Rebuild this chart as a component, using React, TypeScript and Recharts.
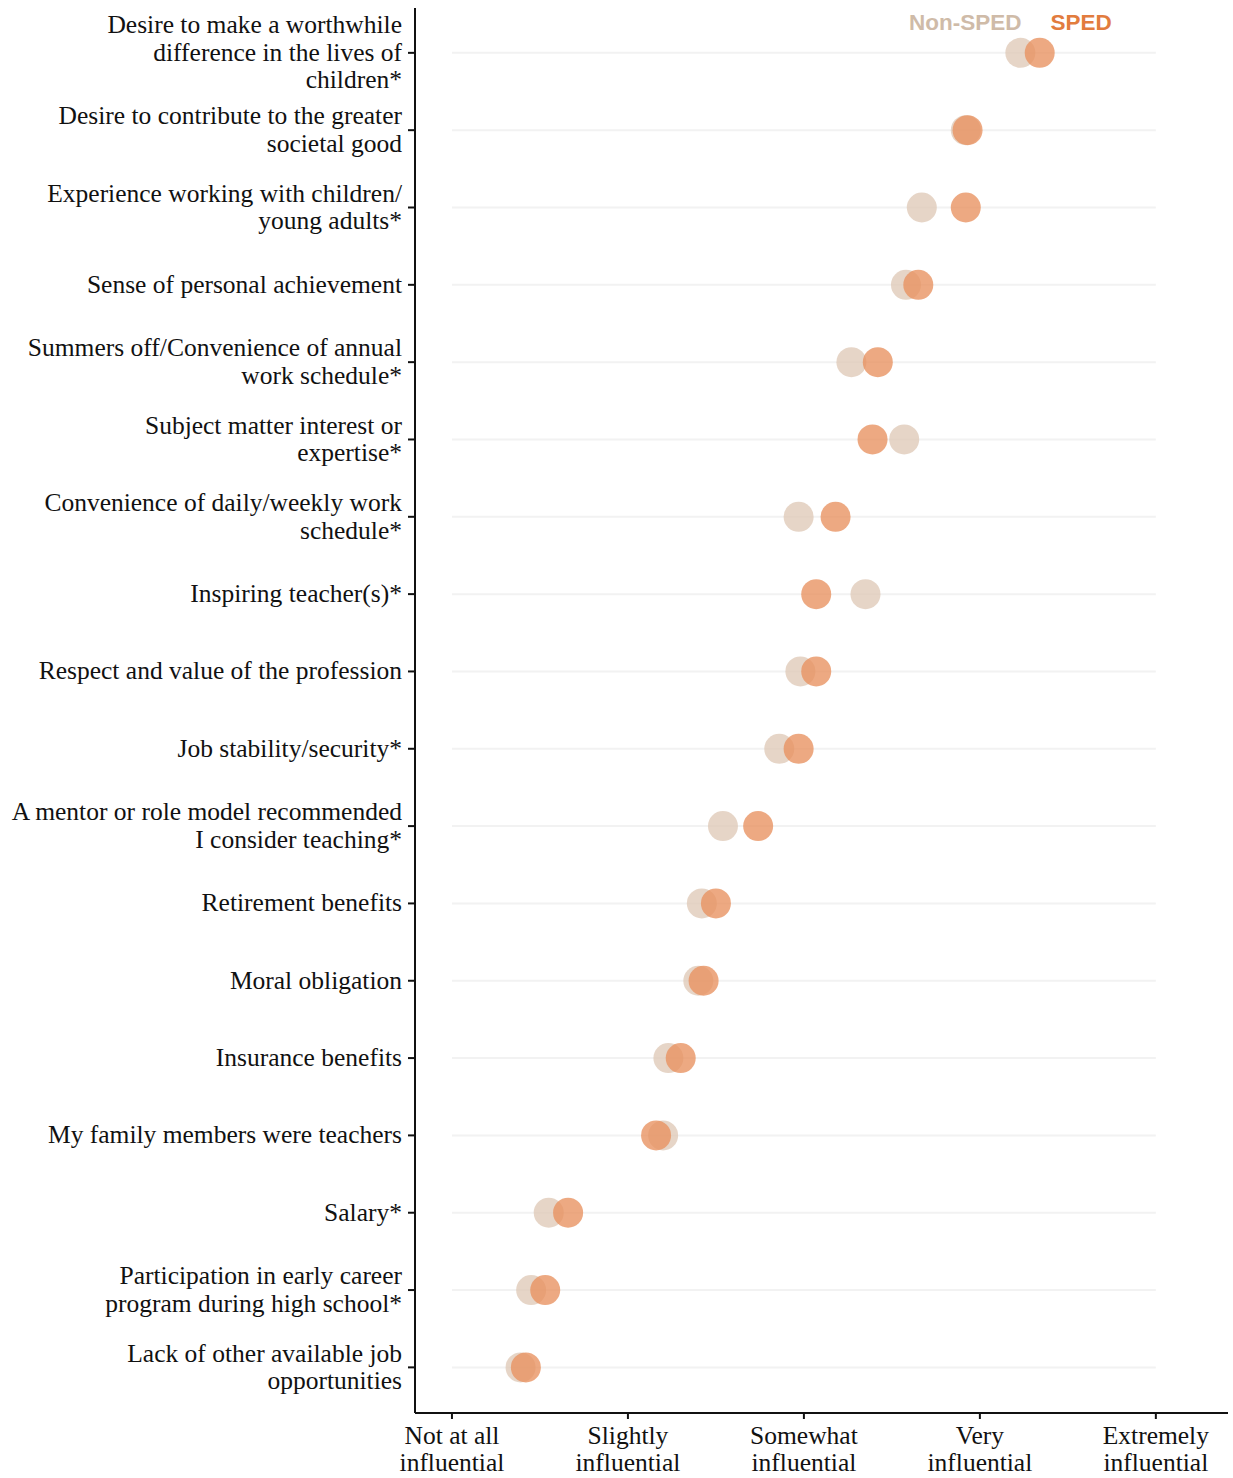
import React from "react";
import { ScatterChart, Scatter, XAxis, YAxis, ReferenceLine } from "recharts";

const categories = [
  "Desire to make a worthwhile\ndifference in the lives of\nchildren*",
  "Desire to contribute to the greater\nsocietal good",
  "Experience working with children/\nyoung adults*",
  "Sense of personal achievement",
  "Summers off/Convenience of annual\nwork schedule*",
  "Subject matter interest or\nexpertise*",
  "Convenience of daily/weekly work\nschedule*",
  "Inspiring teacher(s)*",
  "Respect and value of the profession",
  "Job stability/security*",
  "A mentor or role model recommended\nI consider teaching*",
  "Retirement benefits",
  "Moral obligation",
  "Insurance benefits",
  "My family members were teachers",
  "Salary*",
  "Participation in early career\nprogram during high school*",
  "Lack of other available job\nopportunities",
];

const nonSped = [4.23, 3.92, 3.67, 3.58, 3.27, 3.57, 2.97, 3.35, 2.98, 2.86, 2.54, 2.42, 2.4, 2.23, 2.2, 1.55, 1.45, 1.39];
const sped = [4.34, 3.93, 3.92, 3.65, 3.42, 3.39, 3.18, 3.07, 3.07, 2.97, 2.74, 2.5, 2.43, 2.3, 2.16, 1.66, 1.53, 1.42];

const xTicks = [1, 2, 3, 4, 5];
const xLabels = [
  "Not at all\ninfluential",
  "Slightly\ninfluential",
  "Somewhat\ninfluential",
  "Very\ninfluential",
  "Extremely\ninfluential",
];

const nonData = nonSped.map((v, i) => ({ x: v, y: i }));
const spedData = sped.map((v, i) => ({ x: v, y: i }));
const rowIdx = categories.map((_, i) => i);

const serif = "'Liberation Serif', 'Times New Roman', serif";

const YTick = (props: any) => {
  const { x, y, payload } = props;
  const lines = categories[payload.value].split("\n");
  const lh = 27.5;
  const start = -((lines.length - 1) * lh) / 2 + 8;
  return (
    <text x={x} y={y} textAnchor="end" fontFamily={serif} fontSize={25.5} fill="#111">
      {lines.map((l, i) => (
        <tspan key={i} x={x} dy={i === 0 ? start : lh}>
          {l}
        </tspan>
      ))}
    </text>
  );
};

const XTick = (props: any) => {
  const { x, y, payload } = props;
  const lines = xLabels[xTicks.indexOf(payload.value)].split("\n");
  return (
    <text x={x} y={y} textAnchor="middle" fontFamily={serif} fontSize={25.5} fill="#111">
      {lines.map((l, i) => (
        <tspan key={i} x={x} dy={i === 0 ? 23 : 27}>
          {l}
        </tspan>
      ))}
    </text>
  );
};

const dot = (fill: string) => (p: any) => (
  <circle cx={p.cx} cy={p.cy} r={15} fill={fill} fillOpacity={0.78} />
);

export default function App() {
  return (
    <div style={{ position: "absolute", left: 0, top: 0, width: 1233, height: 1478, background: "#fff" }}>
      <ScatterChart width={1233} height={1478} margin={{ top: 8, right: 5, bottom: 0, left: 0 }}>
        {rowIdx.map((i) => (
          <ReferenceLine
            key={i}
            segment={[{ x: 1, y: i }, { x: 5, y: i }]}
            stroke="#f2f2f2"
            strokeWidth={2}
          />
        ))}
        <XAxis
          type="number"
          dataKey="x"
          domain={[0.79, 5.41]}
          ticks={xTicks}
          allowDataOverflow
          height={65}
          axisLine={{ stroke: "#111", strokeWidth: 2 }}
          tickLine={{ stroke: "#111", strokeWidth: 2 }}
          tickSize={6}
          tick={<XTick />}
        />
        <YAxis
          type="number"
          dataKey="y"
          domain={[-0.58, 17.59]}
          reversed
          allowDataOverflow
          ticks={rowIdx}
          interval={0}
          width={415}
          axisLine={{ stroke: "#111", strokeWidth: 2 }}
          tickLine={{ stroke: "#111", strokeWidth: 2 }}
          tickSize={7}
          tickMargin={6}
          tick={<YTick />}
        />
        <Scatter name="Non-SPED" data={nonData} shape={dot("#dfc9b7")} isAnimationActive={false} />
        <Scatter name="SPED" data={spedData} shape={dot("#e8915f")} isAnimationActive={false} />
      </ScatterChart>
      <div
        style={{
          position: "absolute",
          top: 10,
          left: 909,
          fontFamily: "'Liberation Sans', Arial, sans-serif",
          fontWeight: "bold",
          fontSize: 22.5,
          whiteSpace: "nowrap",
        }}
      >
        <span style={{ color: "#cfbba8" }}>Non-SPED</span>
        <span style={{ color: "#e27c3e", marginLeft: 29 }}>SPED</span>
      </div>
    </div>
  );
}
